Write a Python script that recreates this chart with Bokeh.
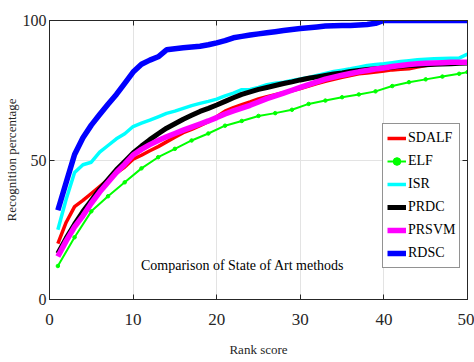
from bokeh.plotting import figure
from bokeh.models import (Range1d, FixedTicker, LinearAxis, Legend, LegendItem, Label)
from bokeh.embed import file_html
from bokeh.resources import INLINE

ranks = list(range(1, 51))
elf_ranks = list(range(1, 50, 2)) + [50]

sdalf = [20, 27.7, 33.3, 35.5, 38, 40.5, 43, 45.3, 47.5, 50.3,
         51.7, 53.3, 54.8, 56.5, 58.2, 59.8, 61, 62.3, 63.7, 65.5,
         67.5, 68.8, 69.8, 70.8, 71.9, 72.7, 73.4, 74.1, 74.8, 75.6,
         76.5, 77.4, 78.2, 78.9, 79.6, 80.3, 80.9, 81.2, 81.5, 81.9,
         82.3, 82.5, 82.7, 83.3, 83.9, 84.2, 84.5, 84.7, 84.9, 85]
elf = [12, 22.3, 31.6, 37, 42, 47, 51, 54, 57, 59.5,
       62.3, 64, 65.8, 66.8, 68, 70.1, 71.3, 72.5, 73.5, 74.6,
       76.5, 77.9, 78.9, 79.9, 80.9, 81.5]
isr = [25, 36, 45.5, 48.3, 49.2, 52.8, 55.2, 57.6, 59.4, 62,
       63.2, 64.3, 65.5, 66.7, 67.5, 68.5, 69.5, 70.3, 71, 71.8,
       73, 74, 75.2, 75.3, 76, 77, 77.5, 77.9, 78.5, 79,
       79.6, 80.3, 81, 81.7, 82.2, 82.7, 83.3, 83.9, 84.2, 84.5,
       84.9, 85.3, 85.6, 85.9, 86.1, 86.3, 86.4, 86.5, 86.5, 88]
prdc = [16.5, 22, 27, 31.5, 35.5, 39.5, 43, 46.5, 49.5, 52.5,
        55, 57.3, 59.4, 61.4, 63, 64.6, 66, 67.4, 68.5, 69.7,
        71, 72.3, 73.5, 74.4, 75.3, 76, 76.7, 77.4, 78, 78.7,
        79.3, 79.8, 80.3, 80.8, 81.2, 81.7, 82.1, 82.4, 82.7, 83,
        83.3, 83.6, 83.9, 84, 84.1, 84.3, 84.4, 84.5, 84.7, 84.8]
prsvm = [15.4, 21, 26, 30, 34.5, 38.5, 42, 45.5, 48.5, 51.8,
         53.8, 55.5, 57, 58.3, 59.5, 60.7, 61.8, 62.9, 64, 65.2,
         66.5, 67.6, 68.6, 69.6, 70.8, 72, 73, 74, 75, 76,
         77, 78, 79, 79.7, 80.4, 81, 81.6, 82.1, 82.6, 83,
         83.5, 83.9, 84.2, 84.5, 84.7, 84.8, 84.9, 85, 85, 85]
rdsc = [32, 42, 52, 58, 62.5, 66.3, 70, 73.5, 77.5, 81.5,
        84.3, 85.8, 87, 89.5, 89.9, 90.2, 90.5, 90.8, 91.3, 92,
        92.8, 93.8, 94.3, 94.8, 95.2, 95.6, 96, 96.4, 96.8, 97.1,
        97.4, 97.7, 98, 98.1, 98.2, 98.2, 98.4, 98.6, 99, 100,
        100, 100, 100, 100, 100, 100, 100, 100, 100, 100]

x_ticks = [0, 10, 20, 30, 40, 50]
y_ticks = [0, 50, 100]
x_label = "Rank score"
y_label = "Recognition percentage"
title_text = "Comparison of State of Art methods"

FONT = "Liberation Serif"

p = figure(width=474, height=362, output_backend="svg", toolbar_location=None,
           x_range=Range1d(0, 50), y_range=Range1d(0, 100),
           min_border_left=49, min_border_right=7, min_border_top=20, min_border_bottom=63)
p.background_fill_color = "white"
p.border_fill_color = "white"
p.outline_line_color = "#262626"
p.outline_line_width = 1

for ax, ticks in ((p.xaxis[0], x_ticks), (p.yaxis[0], y_ticks)):
    ax.ticker = FixedTicker(ticks=ticks)
    ax.major_tick_in = 5
    ax.major_tick_out = 0
    ax.minor_tick_line_color = None
    ax.axis_line_color = "#262626"
    ax.major_tick_line_color = "#262626"
    ax.major_label_text_font = FONT
    ax.major_label_text_color = "#262626"
    ax.axis_label_text_font = FONT
    ax.axis_label_text_font_style = "normal"
    ax.axis_label_text_color = "#262626"

p.xaxis[0].major_label_text_font_size = "17px"
p.xaxis[0].axis_label = x_label
p.xaxis[0].axis_label_text_font_size = "13px"
p.xaxis[0].major_label_standoff = 14
p.xaxis[0].axis_label_standoff = 14
p.yaxis[0].major_label_text_font_size = "16px"
p.yaxis[0].axis_label = y_label
p.yaxis[0].axis_label_text_font_size = "13px"
p.yaxis[0].major_label_standoff = 3
p.yaxis[0].axis_label_standoff = 1

for loc, ticks in (("above", x_ticks), ("right", y_ticks)):
    ax = LinearAxis(ticker=FixedTicker(ticks=ticks), major_tick_in=5, major_tick_out=0,
                    minor_tick_line_color=None, axis_line_color="#262626",
                    major_tick_line_color="#262626", major_label_text_font_size="6px",
                    major_label_overrides={t: "" for t in ticks},
                    major_label_standoff=0)
    p.add_layout(ax, loc)

p.xgrid.ticker = FixedTicker(ticks=x_ticks)
p.ygrid.ticker = FixedTicker(ticks=y_ticks)
p.xgrid.grid_line_color = "#e3e3e3"
p.ygrid.grid_line_color = "#e3e3e3"

r_sdalf = p.line(ranks, sdalf, line_color="#ff0000", line_width=3.5)
r_elf = p.line(elf_ranks, elf, line_color="#00ff00", line_width=2)
r_elf_m = p.scatter(elf_ranks, elf, marker="circle", size=3.5, color="#00ff00")
r_isr = p.line(ranks, isr, line_color="#00ffff", line_width=3.5)
r_prdc = p.line(ranks, prdc, line_color="#000000", line_width=5)
r_prsvm = p.line(ranks, prsvm, line_color="#ff00ff", line_width=5.5)
r_rdsc = p.line(ranks, rdsc, line_color="#0000ff", line_width=5.5)

legend = Legend(items=[
    LegendItem(label="SDALF", renderers=[r_sdalf]),
    LegendItem(label="ELF", renderers=[r_elf, r_elf_m]),
    LegendItem(label="ISR", renderers=[r_isr]),
    LegendItem(label="PRDC", renderers=[r_prdc]),
    LegendItem(label="PRSVM", renderers=[r_prsvm]),
    LegendItem(label="RDSC", renderers=[r_rdsc]),
], location=(333, 31))
legend.label_text_font = FONT
legend.label_text_font_size = "14px"
legend.label_text_color = "#000000"
legend.glyph_width = 19
legend.glyph_height = 20
legend.label_height = 20
legend.label_standoff = 2
legend.spacing = 3
legend.padding = 4
legend.margin = 0
legend.border_line_color = "#262626"
legend.border_line_width = 1
legend.background_fill_color = "white"
legend.background_fill_alpha = 1
p.add_layout(legend)

p.add_layout(Label(x=23.1, y=12.2, text=title_text, text_font=FONT,
                   text_font_size="14px", text_align="center", text_baseline="middle",
                   text_color="#000000"))

open("out.html", "w").write(file_html(p, INLINE))
